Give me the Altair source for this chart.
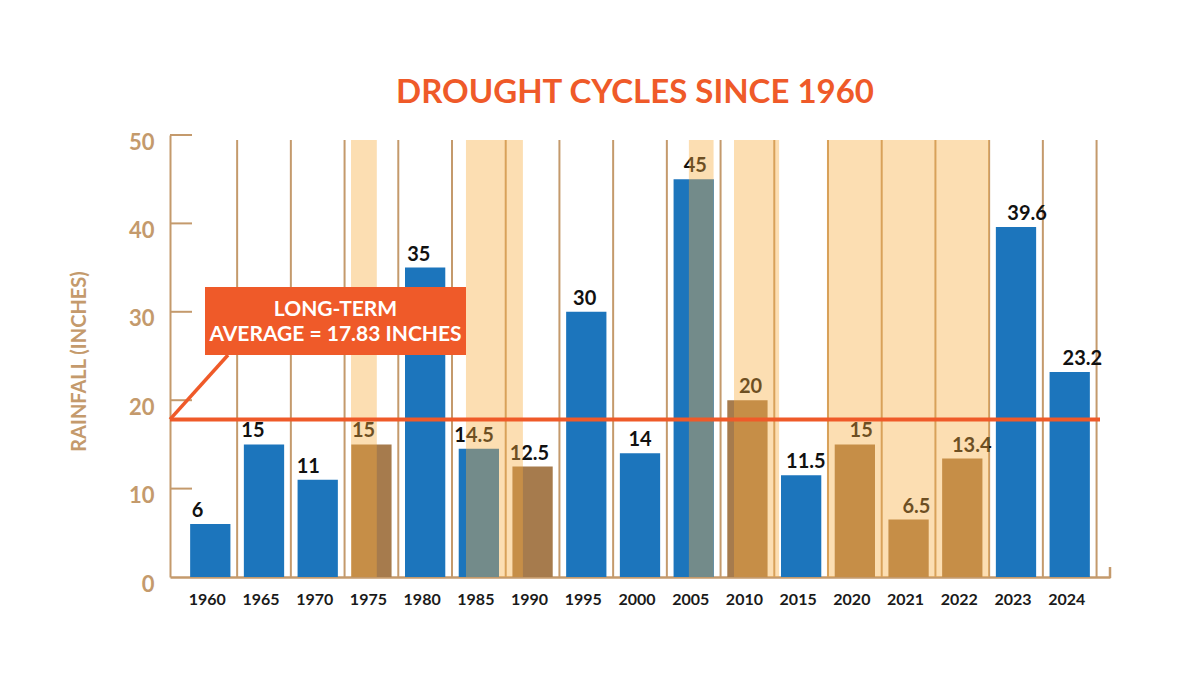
import altair as alt
import pandas as pd

# ---- data ----
years = ["1960", "1965", "1970", "1975", "1980", "1985", "1990", "1995", "2000",
         "2005", "2010", "2015", "2020", "2021", "2022", "2023", "2024"]
rainfall = [6, 15, 11, 15, 35, 14.5, 12.5, 30, 14, 45, 20, 11.5, 15, 6.5, 13.4, 39.6, 23.2]
bar_labels = ["6", "15", "11", "15", "35", "14.5", "12.5", "30", "14", "45", "20",
              "11.5", "15", "6.5", "13.4", "39.6", "23.2"]
drought_bar = [False, False, False, True, False, False, True, False, False,
               False, True, False, True, True, True, False, False]
# drought shading periods, in category-step units along the x axis
drought_start = [3.12, 5.26, 9.41, 10.25, 11.98]
drought_end = [3.60, 6.32, 9.87, 11.09, 15.00]
y_ticks = [0, 10, 20, 30, 40, 50]
long_term_avg = 17.83
chart_title = "DROUGHT CYCLES SINCE 1960"

# ---- styles ----
TAN = "#c49a6c"
ORANGE = "#ef5a29"
BLUE = "#1c75bc"
BROWN = "#a67b4d"
SHADE = "#f7ad3e"
FONT = "Lato"

W, H = 940, 442

bars_df = pd.DataFrame({
    "year": years,
    "rainfall": rainfall,
    "label": bar_labels,
    "kind": ["Drought" if d else "Normal" for d in drought_bar],
})
shade_df = pd.DataFrame({"start": drought_start, "end": drought_end})
grid_df = pd.DataFrame({"b": list(range(1, len(years) + 1))})
tick_df = pd.DataFrame({"v": y_ticks[1:]})
avg_df = pd.DataFrame({"avg": [long_term_avg]})
one_df = pd.DataFrame({"a": [0]})

band = alt.Scale(paddingInner=0.25, paddingOuter=0.375)
qscale = alt.Scale(domain=[-0.25, len(years) + 0.25], nice=False, zero=False)
yscale = alt.Scale(domain=[0, 50], nice=False)

grid = alt.Chart(grid_df).mark_rule(color=TAN, strokeWidth=2).encode(
    x=alt.X("b:Q", scale=qscale, axis=None),
    y=alt.value(5),
    y2=alt.value(H),
)

bars = alt.Chart(bars_df).mark_bar().encode(
    x=alt.X("year:N", sort=years, scale=band,
            axis=alt.Axis(title=None, labelAngle=0, ticks=False, grid=False,
                          domainColor=TAN, domainWidth=2.5,
                          labelFont=FONT, labelFontSize=16, labelFontWeight="bold",
                          labelColor="#1a1a1a", labelPadding=14, labelOffset=-3)),
    y=alt.Y("rainfall:Q", scale=yscale,
            axis=alt.Axis(values=y_ticks, ticks=False, tickSize=0, grid=False,
                          domainColor=TAN, domainWidth=2,
                          labelFont=FONT, labelFontSize=22, labelFontWeight="bold",
                          labelColor=TAN, labelPadding=16, labelOffset=7,
                          title="RAINFALL (INCHES)", titleFont=FONT, titleFontSize=20,
                          titleFontWeight="bold", titleColor=TAN,
                          titleX=-81, titleY=226)),
    color=alt.Color("kind:N", scale=alt.Scale(domain=["Normal", "Drought"],
                                              range=[BLUE, BROWN]), legend=None),
)

labels = alt.Chart(bars_df).mark_text(
    dy=-7, baseline="alphabetic", fontSize=20, fontWeight="bold", font=FONT, color="#111111"
).encode(
    x=alt.X("year:N", sort=years, scale=band, axis=None),
    y=alt.Y("rainfall:Q", scale=yscale, axis=None),
    text="label:N",
)

ticks = alt.Chart(tick_df).mark_rule(color=TAN, strokeWidth=2).encode(
    y=alt.Y("v:Q", scale=yscale, axis=None),
    x=alt.value(0),
    x2=alt.value(22),
)

shade = alt.Chart(shade_df).mark_rect(color=SHADE, opacity=0.4).encode(
    x=alt.X("start:Q", scale=qscale, axis=None),
    x2="end:Q",
    y=alt.value(5),
    y2=alt.value(H),
)

end_tick = alt.Chart(one_df).mark_rule(color=TAN, strokeWidth=2.5).encode(
    x=alt.value(W), y=alt.value(H - 10), y2=alt.value(H + 1)
)

avg_line = alt.Chart(avg_df).mark_rule(color=ORANGE, strokeWidth=4).encode(
    y=alt.Y("avg:Q", scale=yscale, axis=None),
    x=alt.value(0),
    x2=alt.value(930),
)

leader = alt.Chart(avg_df).mark_rule(color=ORANGE, strokeWidth=3.5).encode(
    y=alt.Y("avg:Q", scale=yscale, axis=None),
    x=alt.value(0),
    x2=alt.value(58),
    y2=alt.value(220),
)

box = alt.Chart(one_df).mark_rect(color=ORANGE).encode(
    x=alt.value(35), x2=alt.value(296), y=alt.value(152), y2=alt.value(220)
)

box_text = alt.Chart(one_df).mark_text(
    text=["LONG-TERM", f"AVERAGE = {long_term_avg} INCHES"],
    lineHeight=25, fontSize=21, fontWeight="bold", font=FONT, color="white",
    align="center", baseline="middle",
).encode(x=alt.value(165.5), y=alt.value(175))

title = alt.Chart(one_df).mark_text(
    text=chart_title, fontSize=33, fontWeight="bold", font=FONT, color=ORANGE,
    align="center", baseline="alphabetic",
).encode(x=alt.value(W / 2 - 5), y=alt.value(-32))

chart = alt.layer(
    grid, bars, labels, ticks, shade, end_tick, avg_line, leader, box, box_text, title
).resolve_scale(x="independent").resolve_axis(x="independent", y="independent").properties(
    width=W,
    height=H,
    autosize=alt.AutoSizeParams(type="none"),
    padding={"left": 162, "top": 127, "right": 40, "bottom": 60},
).configure(font=FONT).configure_view(stroke=None)

chart.save("out.html", embed_options={"renderer": "svg", "actions": False})
